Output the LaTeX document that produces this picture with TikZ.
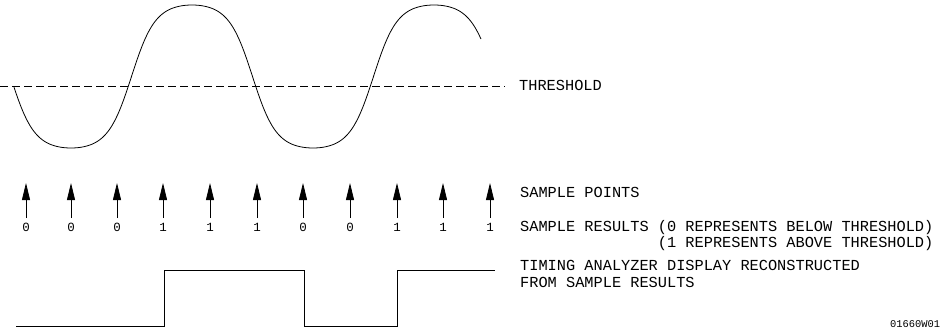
\documentclass[tikz,border=0pt]{standalone}
\usepackage{fontspec}
\setmonofont{Liberation Mono}
\newfontfamily\plotfont{Liberation Mono}
\usetikzlibrary{arrows.meta}
\begin{document}
\begin{tikzpicture}[x=1pt,y=-1pt,
  wave/.style={line width=0.8pt, black},
  thresh/.style={line width=0.8pt, black, dash pattern=on 8pt off 4pt},
  samplearrow/.style={line width=0.8pt, black, -{Triangle[length=17pt,width=8pt]}},
  lbl/.style={font=\plotfont\fontsize{15.3}{17}\selectfont, inner sep=0pt, anchor=base west},
  digit/.style={font=\plotfont\fontsize{12.5}{14}\selectfont, inner sep=0pt, anchor=base},
  tag/.style={font=\plotfont\fontsize{10.4}{12}\selectfont, inner sep=0pt, anchor=base west}]
\useasboundingbox (0,0) rectangle (947,334);

% analog waveform
\draw[wave] plot[domain=14:481, samples=300]
  (\x, {76.5-71.5*tanh(1.5*cos((\x-192)*1.4876))/tanh(1.5)});

% threshold
\node[lbl] (thr) at (519,91) {THRESHOLD};
\coordinate (thrstart) at (0,86);
\draw[thresh] (thrstart) -- ([xshift=-14pt]thr.west |- thrstart);

% sample points and results
\foreach \i/\xx/\v in {1/26/0,2/71/0,3/117/0,4/163/1,5/210/1,6/257/1,7/303/0,8/350/0,9/397/1,10/443/1,11/490/1}{
  \node[digit] (d\i) at (\xx,231.5) {\v};
  \coordinate (b\i) at (\xx,218);
  \coordinate (t\i) at (\xx,183);
  \draw[samplearrow] (b\i) -- (t\i);
}

\node[lbl] (sp) at (520,197) {SAMPLE POINTS};
\node[lbl] (sr) at (520,231.5) {SAMPLE RESULTS (0 REPRESENTS BELOW THRESHOLD)};
\node[lbl, anchor=base east] (sr2) at ([yshift=-15.5pt]sr.base east) {(1 REPRESENTS ABOVE THRESHOLD)};
\node[lbl] (td) at (520,270.5) {TIMING ANALYZER DISPLAY RECONSTRUCTED};
\node[lbl] (td2) at (520,287) {FROM SAMPLE RESULTS};

% reconstructed timing display
\draw[wave] (16,326.7) -- (164,326.7) -- (164,270.7) -- (304,270.7) -- (304,326.7)
  -- (397,326.7) -- (397,270.7) -- (495,270.7);

\node[tag] (id) at (890,327.7) {01660W01};
\end{tikzpicture}
\end{document}
